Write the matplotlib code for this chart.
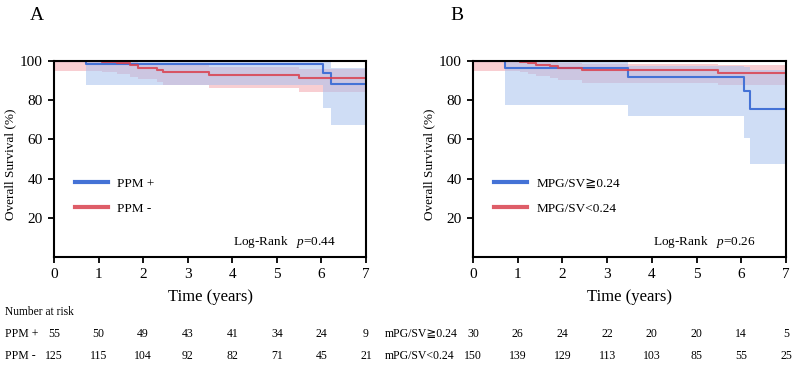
import matplotlib
matplotlib.use("Agg")
import matplotlib.pyplot as plt
from matplotlib.transforms import blended_transform_factory

plt.rcParams['font.family'] = ['Liberation Serif', 'DejaVu Serif', 'DejaVu Sans']
plt.rcParams['mathtext.fontset'] = 'custom'
plt.rcParams['mathtext.it'] = 'Liberation Serif:italic'
plt.rcParams['mathtext.rm'] = 'Liberation Serif'

# ---------------- data ----------------
# Panel A: PPM + (blue) / PPM - (red)
a_pos_t  = [0, 0.72, 6.04, 6.21, 7]
a_pos_s  = [100, 98.6, 94.0, 88.3, 88.3]
a_pos_lo = [100, 87.6, 76.0, 67.2, 67.2]
a_pos_hi = [100, 100, 99.3, 96.6, 96.6]

a_neg_t  = [0, 1.07, 1.41, 1.70, 1.89, 2.30, 2.44, 3.47, 5.50, 7]
a_neg_s  = [100, 99.6, 98.8, 97.8, 96.6, 95.4, 94.2, 92.8, 91.3, 91.3]
a_neg_lo = [95, 94.5, 93.5, 92.0, 91.0, 89.5, 88.0, 86.4, 84.0, 84.0]
a_neg_hi = [100, 100, 100, 99.5, 99.0, 98.5, 98.0, 97.0, 96.0, 96.0]

# Panel B: MPG/SV >= 0.24 (blue) / < 0.24 (red)
b_hi_t  = [0, 0.72, 3.47, 6.05, 6.19, 7]
b_hi_s  = [100, 96.4, 91.7, 84.9, 75.3, 75.3]
b_hi_lo = [100, 77.4, 71.8, 60.5, 47.4, 47.4]
b_hi_hi = [100, 100, 97.6, 97.0, 95.5, 95.5]

b_lo_t  = [0, 1.06, 1.24, 1.42, 1.72, 1.91, 2.43, 5.49, 7]
b_lo_s  = [100, 99.3, 98.8, 98.0, 97.4, 96.6, 95.2, 93.7, 93.7]
b_lo_lo = [95, 94.5, 93.5, 92.5, 91.5, 90.5, 89.0, 87.8, 87.8]
b_lo_hi = [100, 100, 100, 100, 99.5, 99.0, 98.5, 98.0, 98.0]

years = [0, 1, 2, 3, 4, 5, 6, 7]
yticks = [20, 40, 60, 80, 100]

risk_a_labels = ["PPM +", "PPM -"]
risk_a = [[55, 50, 49, 43, 41, 34, 24, 9],
          [125, 115, 104, 92, 82, 71, 45, 21]]
risk_b_labels = ["mPG/SV≧0.24", "mPG/SV<0.24"]
risk_b = [[30, 26, 24, 22, 20, 20, 14, 5],
          [150, 139, 129, 113, 103, 85, 55, 25]]

legend_a = ["PPM +", "PPM -"]
legend_b = ["MPG/SV≧0.24", "MPG/SV<0.24"]
pvals = ["0.44", "0.26"]
panel_letters = ["A", "B"]

BLUE = "#4472D6"
RED = "#D9404E"
BLUE_FILL = "#A9C1EE"
RED_FILL = "#F4A6AE"

W, H = 797, 375
fig = plt.figure(figsize=(W / 100, H / 100), dpi=100)

def fx(px):
    return px / W

def fy(py):
    return 1 - py / H

axA = fig.add_axes([fx(54), fy(257), fx(366) - fx(54), fy(61) - fy(257)])
axB = fig.add_axes([fx(473), fy(257), fx(786) - fx(473), fy(61) - fy(257)])

panels = [
    (axA, (a_pos_t, a_pos_s, a_pos_lo, a_pos_hi), (a_neg_t, a_neg_s, a_neg_lo, a_neg_hi), legend_a),
    (axB, (b_hi_t, b_hi_s, b_hi_lo, b_hi_hi), (b_lo_t, b_lo_s, b_lo_lo, b_lo_hi), legend_b),
]

for i, (ax, blue, red, leg) in enumerate(panels):
    for (t, s, lo, hi), fc in [(red, RED_FILL), (blue, BLUE_FILL)]:
        ax.fill_between(t, lo, hi, step='post', color=fc, alpha=0.55, lw=0)
    h1, = ax.step(blue[0], blue[1], where='post', color=BLUE, lw=1.5)
    h2, = ax.step(red[0], red[1], where='post', color=RED, lw=1.5, alpha=0.85)
    ax.set_xlim(0, 7)
    ax.set_ylim(0, 100)
    ax.set_xticks(years)
    ax.set_yticks(yticks)
    ax.tick_params(direction='out', length=4, width=1.3, labelsize=11, pad=4)
    for sp in ax.spines.values():
        sp.set_linewidth(1.5)
    ax.set_xlabel("Time (years)", fontsize=12, labelpad=6)
    ax.set_ylabel("Overall Survival (%)", fontsize=9.5)
    ax.yaxis.set_label_coords(-0.122, 0.475)
    lg = ax.legend([h1, h2], leg, loc='center left', bbox_to_anchor=(0.03, 0.31),
                   frameon=False, fontsize=9.5, handlelength=2.5, labelspacing=1.0,
                   handletextpad=0.7)
    for l in lg.get_lines():
        l.set_linewidth(3)
    ax.text(0.903, 0.078, "Log-Rank   $\\it{p}$=" + pvals[i], transform=ax.transAxes,
            ha='right', va='center', fontsize=9.5)

fig.text(fx(37), fy(16), panel_letters[0], fontsize=14, ha='center', va='center')
fig.text(fx(457), fy(16), panel_letters[1], fontsize=14, ha='center', va='center')

# number at risk
fig.text(fx(5), fy(312), "Number at risk", fontsize=8.3, ha='left', va='center')
row_y = [fy(334), fy(356)]
for ax, labels, rows, lx in [(axA, risk_a_labels, risk_a, 5), (axB, risk_b_labels, risk_b, 385)]:
    tr = blended_transform_factory(ax.transData, fig.transFigure)
    for lab, row, y in zip(labels, rows, row_y):
        fig.text(fx(lx), y, lab, fontsize=8.5, ha='left', va='center')
        for xv, n in zip(years, row):
            fig.text(xv, y, str(n), transform=tr, fontsize=8.5, ha='center', va='center')

fig.savefig("out.png", dpi=100)
